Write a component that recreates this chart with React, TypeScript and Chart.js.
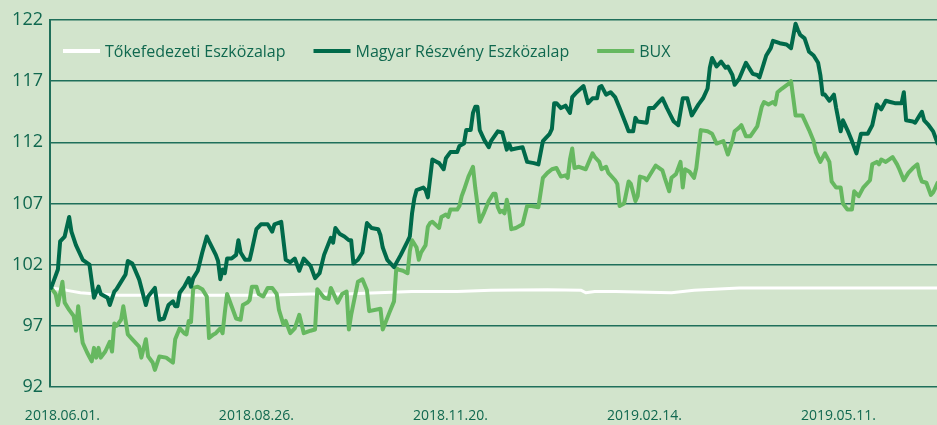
import React, { useEffect, useRef } from 'react';
import { Chart, registerables } from 'chart.js';

Chart.register(...registerables);

// ---- Data (x = days since 2018-06-01) ----
const tickDays = [0, 86, 172, 258, 344];
const tickLabels = ['2018.06.01.', '2018.08.26.', '2018.11.20.', '2019.02.14.', '2019.05.11.'];

const seriesNames = ['Tőkefedezeti Eszközalap', 'Magyar Részvény Eszközalap', 'BUX'];

const tokeDays = [-5, 2, 8, 15, 25, 60, 90, 110, 125, 140, 155, 175, 190, 215, 230, 232, 236, 245, 270, 280, 300, 330, 360, 388];
const tokeValues = [100.1, 99.9, 99.7, 99.6, 99.5, 99.5, 99.5, 99.6, 99.6, 99.7, 99.8, 99.8, 99.9, 99.95, 99.9, 99.7, 99.8, 99.8, 99.7, 99.9, 100.1, 100.1, 100.1, 100.1];

const magyarDays = [-5, -2, -1, 1, 3, 4, 6, 9, 12, 14, 16, 17, 20, 21, 23, 24, 27, 28, 29, 31, 34, 37, 38, 41, 43, 45, 47, 49, 50, 51, 52, 54, 56, 57, 58, 60, 62, 64, 65, 68, 69, 70, 71, 72, 73, 75, 77, 78, 79, 81, 83, 84, 86, 88, 91, 93, 94, 97, 99, 101, 103, 105, 107, 110, 112, 114, 116, 119, 120, 121, 123, 125, 127, 128, 129, 131, 133, 135, 137, 140, 141, 142, 144, 147, 150, 153, 154, 155, 156, 157, 160, 161, 162, 164, 166, 167, 169, 170, 172, 175, 176, 178, 179, 181, 182, 183, 184, 185, 187, 189, 190, 193, 195, 197, 198, 199, 201, 204, 206, 209, 211, 213, 216, 217, 218, 219, 221, 223, 225, 226, 228, 231, 233, 235, 237, 238, 239, 241, 243, 245, 247, 250, 251, 253, 254, 255, 259, 260, 262, 264, 266, 268, 271, 273, 275, 277, 279, 282, 284, 286, 287, 288, 290, 292, 294, 295, 297, 298, 300, 303, 305, 306, 308, 309, 311, 312, 314, 315, 318, 321, 323, 325, 326, 327, 329, 331, 333, 335, 336, 337, 338, 340, 342, 343, 345, 346, 348, 350, 352, 354, 357, 359, 361, 363, 365, 367, 369, 372, 373, 374, 377, 378, 380, 381, 382, 384, 386, 388];
const magyarValues = [100.1, 101.6, 103.9, 104.3, 105.9, 104.7, 103.6, 102.4, 102.0, 99.3, 100.2, 99.6, 99.3, 98.7, 99.8, 100.0, 100.9, 101.2, 102.3, 102.1, 100.8, 98.7, 99.4, 100.1, 97.5, 97.6, 98.7, 99.0, 98.6, 98.6, 99.7, 100.2, 100.9, 100.2, 100.9, 101.5, 103.0, 104.3, 103.9, 102.8, 102.3, 100.8, 101.6, 101.3, 102.5, 102.5, 102.8, 104.0, 103.0, 102.4, 102.4, 103.2, 104.9, 105.3, 105.3, 104.7, 105.3, 105.5, 102.4, 102.2, 102.5, 101.5, 102.5, 101.9, 100.9, 101.3, 102.8, 104.2, 103.8, 105.0, 104.5, 104.3, 104.0, 104.0, 102.1, 102.4, 103.0, 105.4, 105.0, 104.9, 104.4, 103.4, 102.4, 101.8, 102.8, 103.9, 104.3, 106.2, 107.4, 108.1, 108.3, 108.1, 107.5, 110.6, 110.4, 110.3, 109.8, 110.7, 111.2, 111.2, 111.7, 111.9, 113.0, 113.0, 114.4, 114.9, 114.9, 113.0, 112.2, 111.6, 112.1, 112.9, 112.8, 111.4, 111.9, 111.4, 111.5, 111.6, 110.4, 110.3, 110.2, 112.1, 112.7, 113.1, 115.2, 115.2, 114.8, 115.0, 114.4, 115.7, 116.1, 116.6, 115.2, 115.6, 115.6, 116.5, 116.6, 115.9, 116.1, 115.7, 114.8, 113.4, 112.9, 112.9, 114.0, 113.7, 113.6, 114.8, 114.8, 115.2, 115.6, 114.8, 113.7, 113.4, 115.6, 115.6, 114.2, 115.1, 115.6, 116.4, 118.1, 118.9, 118.2, 118.6, 118.1, 118.2, 117.5, 116.7, 117.2, 118.5, 117.9, 117.6, 117.5, 117.3, 118.5, 119.1, 119.7, 120.3, 120.1, 120.0, 119.7, 121.7, 121.2, 120.8, 120.5, 119.4, 119.1, 118.5, 117.5, 115.9, 115.9, 115.4, 115.9, 114.8, 112.9, 113.8, 113.0, 112.1, 111.1, 112.7, 112.7, 113.4, 115.1, 114.7, 115.4, 115.3, 115.2, 115.2, 116.1, 113.8, 113.7, 113.6, 114.2, 114.5, 113.8, 113.4, 112.9, 111.9];

const buxDays = [-5, -3, -2, 0, 1, 3, 5, 6, 7, 8, 9, 11, 13, 14, 15, 16, 17, 19, 21, 22, 23, 24, 26, 27, 29, 31, 34, 35, 37, 38, 40, 41, 43, 46, 49, 50, 52, 54, 55, 56, 57, 58, 60, 62, 64, 65, 67, 68, 70, 71, 72, 73, 75, 77, 79, 80, 82, 83, 84, 86, 87, 89, 91, 93, 95, 96, 98, 99, 101, 103, 105, 107, 110, 112, 113, 116, 118, 119, 122, 124, 126, 127, 128, 131, 133, 135, 136, 141, 142, 145, 147, 148, 149, 151, 153, 154, 155, 157, 158, 159, 161, 162, 163, 164, 167, 168, 170, 171, 172, 175, 176, 177, 178, 180, 182, 183, 185, 187, 189, 191, 192, 193, 194, 195, 196, 197, 198, 199, 201, 204, 206, 208, 211, 213, 215, 217, 219, 221, 223, 224, 225, 226, 227, 229, 232, 235, 236, 238, 239, 241, 242, 245, 246, 247, 249, 251, 252, 254, 255, 256, 258, 259, 263, 266, 267, 269, 270, 272, 274, 275, 276, 278, 280, 281, 283, 286, 288, 290, 293, 295, 297, 298, 300, 301, 303, 305, 308, 310, 311, 313, 315, 316, 317, 319, 322, 323, 324, 325, 328, 331, 333, 334, 336, 338, 340, 341, 343, 345, 346, 348, 350, 351, 353, 355, 358, 359, 361, 362, 363, 365, 368, 370, 371, 373, 375, 377, 379, 380, 381, 383, 385, 386, 388];
const buxValues = [100.1, 99.6, 98.7, 100.6, 98.9, 98.3, 97.8, 96.6, 98.6, 97.0, 95.6, 94.8, 94.1, 95.2, 94.4, 95.2, 94.4, 94.9, 95.7, 94.9, 97.2, 97.0, 97.5, 98.6, 96.3, 95.9, 95.3, 94.4, 95.9, 94.5, 94.0, 93.4, 94.5, 94.4, 94.0, 95.9, 96.8, 96.4, 96.3, 97.4, 97.3, 100.1, 100.2, 100.0, 99.4, 96.0, 96.3, 96.4, 96.8, 96.4, 98.1, 99.6, 98.6, 97.6, 97.5, 98.7, 98.9, 99.1, 100.2, 100.2, 99.6, 99.4, 100.1, 100.1, 99.6, 98.3, 97.1, 97.4, 96.4, 96.8, 97.9, 96.4, 96.6, 96.7, 100.0, 99.3, 99.2, 100.1, 98.9, 99.6, 99.8, 96.7, 97.9, 100.6, 100.8, 99.9, 98.2, 98.4, 96.7, 98.1, 99.0, 101.7, 101.6, 101.5, 101.3, 103.1, 104.0, 103.4, 102.4, 103.0, 103.6, 105.1, 105.4, 105.5, 105.0, 105.9, 106.1, 105.9, 106.5, 106.5, 106.8, 107.6, 108.1, 109.2, 110.0, 108.3, 105.5, 106.3, 107.2, 107.8, 107.8, 106.7, 106.3, 106.4, 106.2, 107.3, 106.4, 104.9, 105.0, 105.3, 106.8, 106.8, 106.7, 109.1, 109.5, 109.8, 109.9, 109.2, 109.3, 109.1, 110.6, 111.5, 109.9, 110.0, 109.8, 111.1, 110.8, 110.4, 109.8, 110.0, 109.5, 108.9, 108.6, 106.8, 107.0, 108.8, 108.6, 107.2, 107.6, 109.2, 109.1, 108.9, 110.1, 109.7, 109.1, 108.0, 109.1, 109.4, 110.4, 108.3, 109.8, 109.6, 109.1, 109.9, 113.0, 112.9, 112.7, 111.9, 112.1, 111.0, 112.1, 112.9, 113.2, 113.4, 112.5, 112.5, 113.3, 114.9, 115.3, 115.1, 115.3, 115.1, 116.1, 116.4, 116.8, 117.0, 115.6, 114.2, 114.2, 113.0, 112.1, 111.2, 110.4, 111.1, 110.4, 108.8, 108.3, 108.3, 107.0, 106.5, 106.5, 108.0, 107.6, 108.3, 108.9, 110.2, 110.4, 110.2, 110.6, 110.4, 110.8, 110.2, 109.8, 108.9, 109.5, 109.9, 110.2, 109.3, 108.8, 108.7, 107.7, 107.9, 108.7];

// ---- Styles ----
const BG = '#d2e4cc';
const GRID = '#1f6f5a';
const TEXT = '#10684f';
const DARK = '#006a4a';
const LIGHT = '#66b860';
const WHITE = '#ffffff';
const FONT = "'Open Sans', 'Noto Sans', sans-serif";

const toPoints = (days: number[], vals: number[]) => days.map((d, i) => ({ x: d, y: vals[i] }));

const legendPlugin = {
  id: 'innerLegend',
  afterDraw(chart: any) {
    const ctx = chart.ctx;
    const area = chart.chartArea;
    const y = area.top + 31;
    let x = area.left + 13;
    ctx.save();
    ctx.font = `16px ${FONT}`;
    ctx.textBaseline = 'middle';
    ctx.textAlign = 'left';
    chart.data.datasets
      .slice()
      .sort((a: any, b: any) => a.legendIndex - b.legendIndex)
      .forEach((ds: any) => {
        ctx.strokeStyle = ds.borderColor;
        ctx.lineWidth = 4;
        ctx.lineCap = 'butt';
        ctx.beginPath();
        ctx.moveTo(x, y);
        ctx.lineTo(x + 37, y);
        ctx.stroke();
        x += 42;
        ctx.fillStyle = TEXT;
        ctx.fillText(ds.label, x, y + 1);
        x += ctx.measureText(ds.label).width + 28;
      });
    ctx.restore();
  },
};

export default function App() {
  const ref = useRef<HTMLCanvasElement>(null);

  useEffect(() => {
    document.body.style.margin = '0';
    const chart = new Chart(ref.current as HTMLCanvasElement, {
      type: 'line',
      data: {
        datasets: [
          {
            label: seriesNames[1],
            data: toPoints(magyarDays, magyarValues),
            borderColor: DARK,
            borderWidth: 4,
            order: 0,
            legendIndex: 1,
          } as any,
          {
            label: seriesNames[2],
            data: toPoints(buxDays, buxValues),
            borderColor: LIGHT,
            borderWidth: 4,
            order: 1,
            legendIndex: 2,
          } as any,
          {
            label: seriesNames[0],
            data: toPoints(tokeDays, tokeValues),
            borderColor: WHITE,
            borderWidth: 3,
            order: 2,
            legendIndex: 0,
          } as any,
        ],
      },
      options: {
        animation: false,
        responsive: true,
        maintainAspectRatio: false,
        layout: { padding: { top: 20, left: 0, right: 0, bottom: 0 } },
        plugins: { legend: { display: false }, tooltip: { enabled: false } },
        elements: {
          point: { radius: 0 },
          line: { tension: 0, borderJoinStyle: 'round', borderCapStyle: 'round', fill: false },
        },
        scales: {
          x: {
            type: 'linear',
            min: -5.5,
            max: 387.7,
            grid: { display: false, drawTicks: false },
            border: { display: false },
            afterBuildTicks: (scale: any) => {
              scale.ticks = tickDays.map((v) => ({ value: v }));
            },
            afterFit: (scale: any) => {
              scale.height = 38;
            },
            ticks: {
              autoSkip: false,
              maxRotation: 0,
              minRotation: 0,
              padding: 21,
              color: TEXT,
              font: { family: FONT, size: 14, weight: '500' },
              callback: (_v: any, i: number) => tickLabels[i],
            },
          },
          y: {
            min: 92,
            max: 122,
            grid: { color: GRID, lineWidth: 1.5, drawTicks: false },
            border: { color: GRID, width: 2 },
            afterFit: (scale: any) => {
              scale.width = 50;
            },
            ticks: {
              stepSize: 5,
              padding: 7,
              color: TEXT,
              font: { family: FONT, size: 18, weight: '500' },
            },
          },
        },
      },
      plugins: [legendPlugin],
    } as any);
    return () => chart.destroy();
  }, []);

  return (
    <div style={{ width: 937, height: 425, background: BG, position: 'relative' }}>
      <canvas ref={ref} />
    </div>
  );
}
